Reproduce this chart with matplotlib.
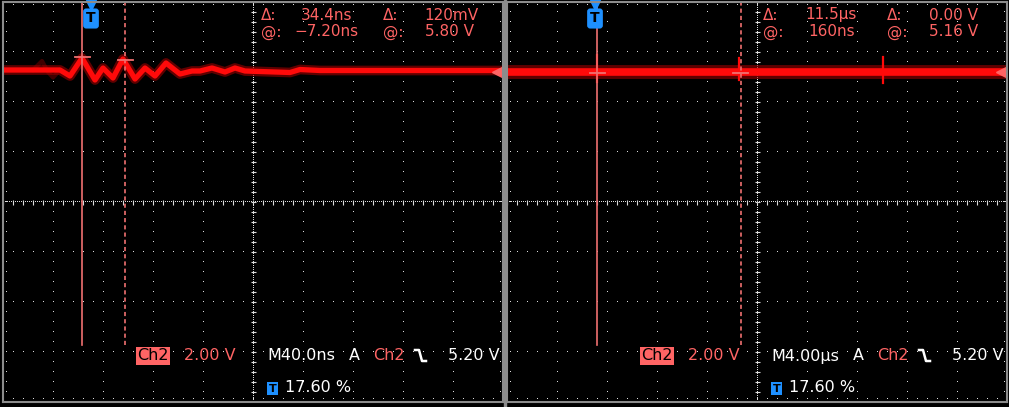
import matplotlib
matplotlib.use('Agg')
import matplotlib.pyplot as plt
import numpy as np
from matplotlib.transforms import blended_transform_factory
from matplotlib.lines import Line2D
from matplotlib.patches import Rectangle

plt.rcParams['font.family'] = ['DejaVu Sans']
plt.rcParams['lines.scale_dashes'] = False

# ---- left capture: 40 ns/div, 2 V/div, trigger at 17.6 %
left_t_ns = [-70.4, -24.8, -16.8, -7.2, 3.2, 9.6, 17.6, 25.6, 35.2, 43.2, 51.2, 60.0,
             71.2, 80.8, 87.2, 96.8, 107.2, 115.2, 123.2, 159.2, 167.2, 183.2, 329.6]
left_v = [5.28, 5.28, 5.04, 5.76, 4.88, 5.36, 4.96, 5.72, 4.92, 5.36, 5.04, 5.56,
          5.12, 5.24, 5.24, 5.36, 5.20, 5.36, 5.24, 5.18, 5.30, 5.26, 5.26]
# faint persistence ghost before the edge
ghost_t_ns = [-46.4, -39.2, -34.4, -30.4, -24.8]
ghost_v = [5.28, 5.64, 5.20, 4.98, 5.28]
left_cursor_t = [-7.2, 27.2]
left_cursor_v = [5.80, 5.68]

# ---- right capture: 4 us/div
right_t_us = [-7.04, 32.96]
right_v = [5.20, 5.20]
spike_t_us = [0.16, 11.52, 23.04]
spike_hi = [5.88, 5.76, 5.80]
spike_lo = [4.80, 4.88, 4.76]
right_cursor_t = [0.16, 11.66]
right_cursor_v = [5.16, 5.16]

trig_level = 5.20
trig_pos = 0.176

W, H = 1009, 407
SALMON = '#ff6464'
CURSOR = '#f07070'
BLUE = '#1e90ff'
DOT = '#dcdcdc'


def px(x, y):
    return x / W, 1 - y / H


fig = plt.figure(figsize=(W / 100, H / 100), dpi=100, facecolor='black')


def graticule(ax):
    tr = ax.transAxes
    kw = dict(ls='none', marker=',', color=DOT, transform=tr)
    ys = np.arange(0, 41) / 40
    xs = np.arange(0, 51) / 50
    for i in range(1, 10):
        if i != 5:
            ax.plot(np.full_like(ys, i / 10), ys, **kw)
    for j in range(1, 8):
        if j != 4:
            ax.plot(xs, np.full_like(xs, j / 8), **kw)
    # centre cross: dense dots + small ticks
    xd = np.arange(0, 251) / 250
    yd = np.arange(0, 201) / 200
    ax.plot(xd, np.full_like(xd, 0.5), **kw)
    ax.plot(np.full_like(yd, 0.5), yd, **kw)
    ax.plot(xs, np.full_like(xs, 0.5), ls='none', marker='|', ms=3.6, mew=0.8,
            color=DOT, transform=tr)
    ax.plot(np.full_like(ys, 0.5), ys, ls='none', marker='_', ms=3.6, mew=0.8,
            color=DOT, transform=tr)
    # border ticks
    ax.plot(xs, np.full_like(xs, 3 / 400), **kw)
    ax.plot(xs, np.full_like(xs, 1 - 3 / 400), **kw)
    ax.plot(np.full_like(ys, 3 / 500), ys, **kw)
    ax.plot(np.full_like(ys, 1 - 3 / 500), ys, **kw)


def setup_panel(x0, t_per_div):
    ax = fig.add_axes([x0 / W, 5 / H, 500 / W, 400 / H])
    ax.set_facecolor('black')
    t0 = -trig_pos * 10 * t_per_div
    ax.set_xlim(t0, t0 + 10 * t_per_div)
    ax.set_ylim(-8, 8)
    ax.set_xticks([])
    ax.set_yticks([])
    for s in ax.spines.values():
        s.set_color('#8c8c8c')
        s.set_linewidth(1.5)
    graticule(ax)
    return ax


def cursors(ax, ts, vs, seg):
    bottom = -5.72
    ax.plot([ts[0], ts[0]], [bottom, 8], color=CURSOR, lw=1.2)
    ax.plot([ts[1], ts[1]], [bottom, 8], color=CURSOR, lw=1.2, dashes=(3, 2.2))
    for t, v in zip(ts, vs):
        ax.plot([t - seg / 2, t + seg / 2], [v, v], color=CURSOR, lw=1.3)


def markers(ax):
    bt = blended_transform_factory(ax.transData, ax.transAxes)
    ax.plot([0], [1 - 3 / 400], marker='v', ms=7.5, color=BLUE, transform=bt, clip_on=False)
    ax.text(0, 1 - 16.5 / 400, 'T', transform=bt, ha='center', va='center',
            fontsize=10, fontweight='bold', color='black',
            bbox=dict(boxstyle='round,pad=0.22', fc=BLUE, ec='none'))
    lt = blended_transform_factory(ax.transAxes, ax.transData)
    ax.plot([1 - 6 / 500], [trig_level], marker='<', ms=7, color=SALMON,
            transform=lt, ls='none')


# left panel
axl = setup_panel(3, 40.0)
axl.plot(ghost_t_ns, ghost_v, color='#900000', lw=3, alpha=0.45)
axl.plot(left_t_ns, left_v, color='#a00000', lw=7, alpha=0.6, solid_joinstyle='round')
axl.plot(left_t_ns, left_v, color='#ff0a0a', lw=3.8, solid_joinstyle='round')
cursors(axl, left_cursor_t, left_cursor_v, 12.0)
markers(axl)

# right panel
axr = setup_panel(507, 4.0)
axr.plot(right_t_us, right_v, color='#a00000', lw=10, alpha=0.6)
axr.plot(right_t_us, right_v, color='#ff0a0a', lw=5.5)
for t, lo, hi in zip(spike_t_us, spike_lo, spike_hi):
    axr.plot([t, t], [lo, hi], color='#ff0a0a', lw=1.6)
cursors(axr, right_cursor_t, right_cursor_v, 1.2)
markers(axr)

# separator between the two captures
fig.patches.append(Rectangle((503.5 / W, 0), 3 / W, 1, transform=fig.transFigure,
                             color='#8c8c8c', zorder=5))

# cursor readouts
readouts = [
    (261, 15, 'Δ:'), (301, 15, '34.4ns'), (383, 15, 'Δ:'), (424, 15, '120mV'),
    (261, 32, '@:'), (294, 32, '−7.20ns'), (383, 32, '@:'), (425, 32, '5.80 V'),
    (763, 15, 'Δ:'), (805, 15, '11.5µs'), (887, 15, 'Δ:'), (929, 15, '0.00 V'),
    (763, 32, '@:'), (808, 32, '160ns'), (887, 32, '@:'), (929, 32, '5.16 V'),
]
for x, y, s in readouts:
    fig.text(*px(x, y), s, ha='left', va='center', color=SALMON, fontsize=11)

# status lines
for dx, tb in [(0, 'M40.0ns'), (504, 'M4.00µs')]:
    fig.text(*px(137 + dx, 356), 'Ch2', ha='left', va='center', color='black', fontsize=11.5,
             bbox=dict(boxstyle='square,pad=0.08', fc=SALMON, ec='none'))
    fig.text(*px(184 + dx, 356), '2.00 V', ha='left', va='center', color=SALMON, fontsize=11.5)
    fig.text(*px(267 + dx, 356), tb, ha='left', va='center', color='white', fontsize=11.5)
    fig.text(*px(349 + dx, 356), 'A', ha='left', va='center', color='white', fontsize=11.5)
    fig.text(*px(373 + dx, 356), 'Ch2', ha='left', va='center', color=SALMON, fontsize=11.5)
    ex = [415 + dx, 419 + dx, 422 + dx, 426 + dx]
    ey = [350, 350, 361, 361]
    fig.add_artist(Line2D([e / W for e in ex], [1 - e / H for e in ey],
                          transform=fig.transFigure, color='white', lw=1.8))
    fig.text(*px(448 + dx, 356), '5.20 V', ha='left', va='center', color='white', fontsize=11.5)
    fig.text(*px(272.5 + dx, 388.5), 'T', ha='center', va='center', color='black',
             fontsize=8, fontweight='bold',
             bbox=dict(boxstyle='square,pad=0.15', fc=BLUE, ec='none'))
    fig.text(*px(285 + dx, 388), '17.60 %', ha='left', va='center', color='white', fontsize=11.5)

fig.savefig('out.png', dpi=100, facecolor='black')
